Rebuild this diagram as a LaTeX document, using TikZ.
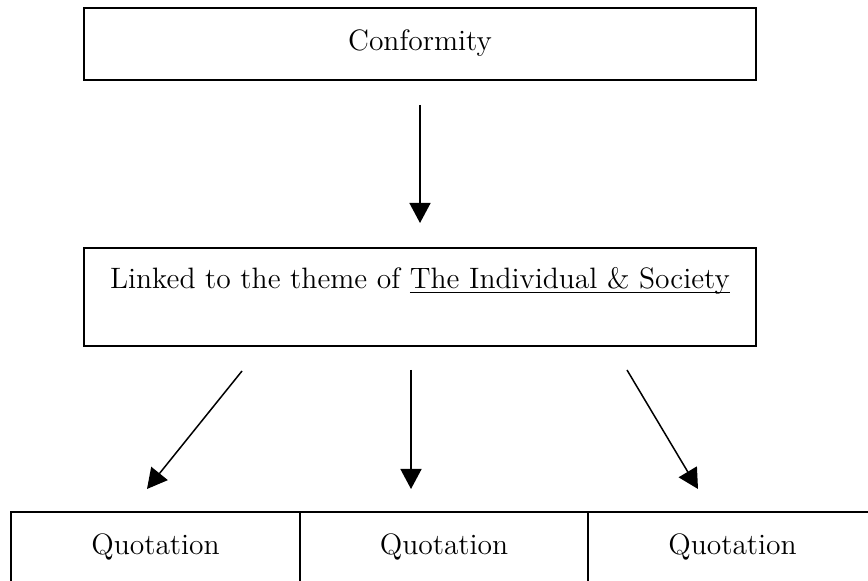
\documentclass[tikz,border=0pt]{standalone}
\usepackage{tikz}
\usetikzlibrary{arrows.meta}
\newcommand{\undrln}[1]{\setbox0\hbox{#1}\rlap{\rule[-2.2pt]{\wd0}{0.7pt}}\box0}

\begin{document}
\begin{tikzpicture}[x=0.5pt,y=-0.5pt,
    box/.style={draw,line width=1pt,inner sep=0pt,minimum width=336pt,text height=10pt,text depth=3pt,font=\fontsize{14.75}{17}\selectfont},
    cell/.style={box,minimum width=144.25pt,minimum height=36pt},
    arr/.style={line width=0.75pt,-{Triangle[length=10pt,width=10.5pt]}}]
    \useasboundingbox (0,0) rectangle (868,581);
    \node[box,minimum height=36pt] (conf) at (420,44) {Conformity};
    \node[box,minimum height=49pt,text depth=18pt] (link) at (420,297) {Linked to the theme of \undrln{The Individual \& Society}};
    \foreach \i/\x in {1/155.5,2/444,3/732.5}
      \node[cell] (q\i) at (\x,548) {Quotation};
    \coordinate (s1) at (242,371);
    \coordinate (t1) at (147,489);
    \coordinate (s2) at (411,370);
    \coordinate (t2) at (411,489);
    \coordinate (s3) at (627,370);
    \coordinate (t3) at (698,489);
    \draw[arr,shorten <=12pt,shorten >=12pt] (conf) -- (link);
    \foreach \i in {1,2,3}
      \draw[arr] (s\i) -- (t\i);
  \end{tikzpicture}
\end{document}
